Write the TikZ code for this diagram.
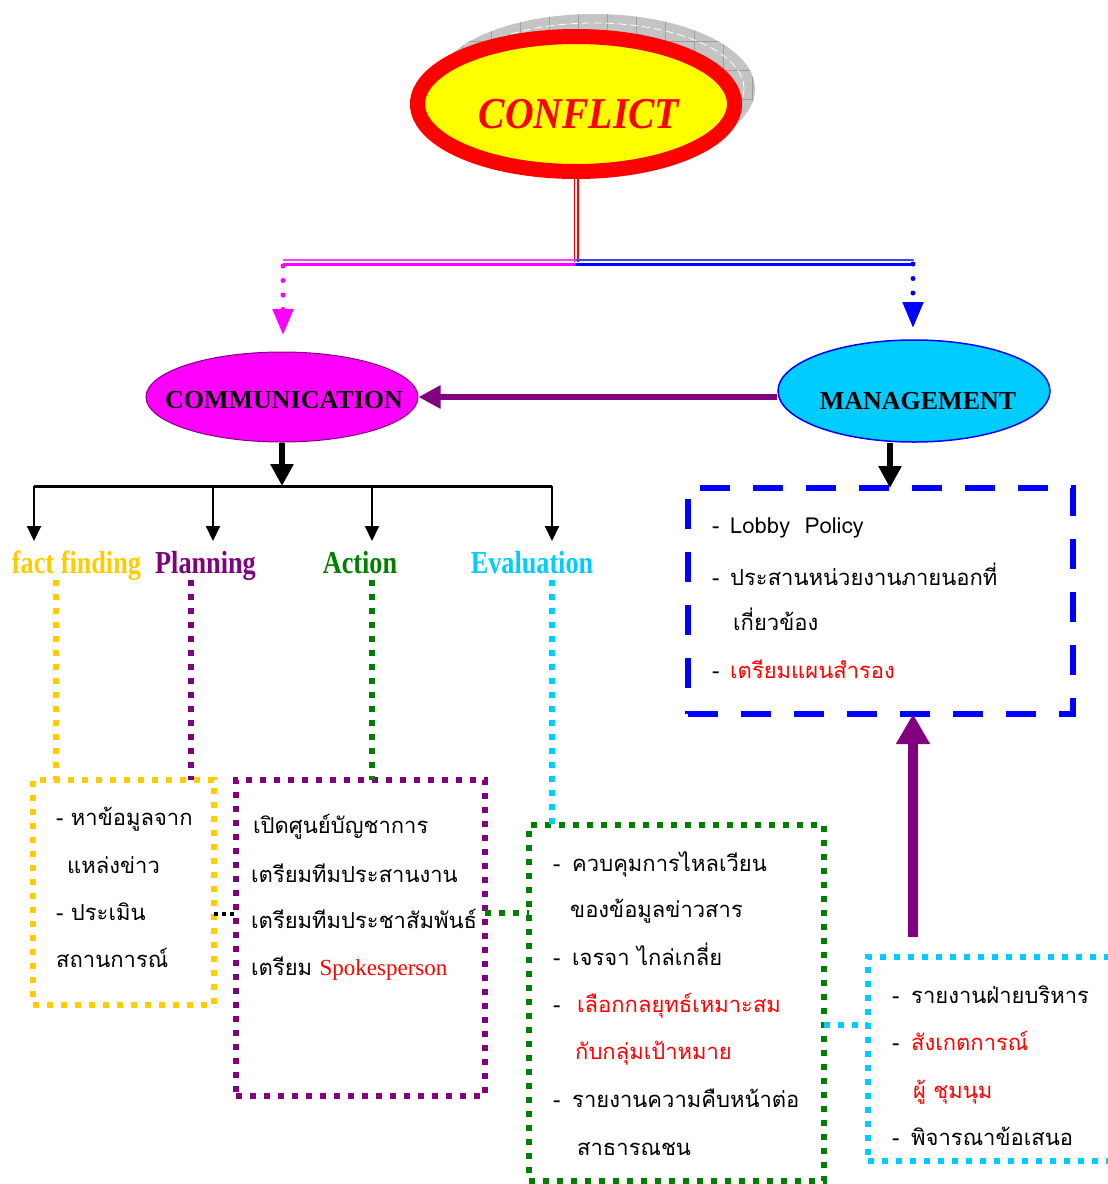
\documentclass[tikz,border=0pt]{standalone}
\usepackage{fontspec}
\setmainfont{Liberation Serif}
\newfontfamily\thaifont[Script=Thai]{Loma}
\newfontfamily\labelserif[FakeStretch=0.82]{Liberation Serif}
\newfontfamily\titleserif[FakeStretch=0.9]{Liberation Serif}
\usetikzlibrary{arrows.meta,shapes.geometric}

\definecolor{cGold}{RGB}{255,204,0}
\definecolor{cPurple}{RGB}{128,0,128}
\definecolor{cGreen}{RGB}{0,128,0}
\definecolor{cCyan}{RGB}{0,204,255}
\definecolor{cMag}{RGB}{255,0,255}
\definecolor{cBlue}{RGB}{0,0,255}
\definecolor{cRed}{RGB}{255,0,0}
\definecolor{cYellow}{RGB}{255,255,0}

\begin{document}
\begin{tikzpicture}[x=1pt,y=-1pt,
  thai/.style={font=\thaifont\fontsize{22}{26}\selectfont, anchor=base west, inner sep=0pt},
  redthai/.style={thai, text=cRed},
  lab/.style={font=\labelserif\bfseries\fontsize{32}{36}\selectfont, anchor=base, inner sep=0pt},
  ovaltext/.style={font=\bfseries\fontsize{26}{30}\selectfont, inner sep=0pt},
  dotbox/.style={draw=#1, line width=6pt, dash pattern=on 6pt off 8pt, rectangle,
    anchor=north west, inner sep=0pt, outer sep=0pt},
  dotline/.style={draw=#1, line width=6pt, dash pattern=on 6pt off 8pt},
  tree/.style={line width=2pt, -{Triangle[width=14pt,length=15pt]}},
  bigarrow/.style={line width=6pt, -{Triangle[width=22pt,length=22pt]}},
  dotarrow/.style={draw=#1, line width=5pt, line cap=round, dash pattern=on 0pt off 14.5pt,
    -{Triangle[width=20pt,length=26pt]}},
]
\useasboundingbox (0,0) rectangle (1108,1184);

% --- textured shadow behind the CONFLICT oval
\begin{scope}
  \clip (594,89) ellipse [x radius=161pt, y radius=75pt];
  \fill[black!23] (420,0) rectangle (770,180);
  \foreach \gx in {433,462,...,760} \draw[black!38, line width=0.8pt] (\gx,0) -- (\gx,180);
  \foreach \gy in {12,41,...,180} \draw[black!38, line width=0.8pt] (420,\gy) -- (770,\gy);
  \draw[white, line width=0.8pt, dash pattern=on 8pt off 4pt] (594,89) ellipse [x radius=150pt, y radius=66pt];
\end{scope}

% --- the three ovals
\node[ellipse, draw=cRed, line width=15pt, fill=cYellow, minimum width=317pt,
  minimum height=135pt, inner sep=0pt] (conflict) at (576,104) {};
\node[font=\titleserif\bfseries\itshape\fontsize{44}{48}\selectfont, text=cRed, inner sep=0pt]
  (conflicttext) at (579,114) {CONFLICT};

\node[ellipse, draw=cPurple, line width=1pt, fill=cMag, minimum width=272pt,
  minimum height=90pt, inner sep=0pt] (comm) at (282,397) {};
\node[ovaltext] (commtext) at (284,400) {COMMUNICATION};

\node[ellipse, draw=cBlue, line width=1.5pt, fill=cCyan, minimum width=272pt,
  minimum height=102pt, inner sep=0pt] (mgmt) at (914,391) {};
\node[ovaltext] (mgmttext) at (918,401) {MANAGEMENT};

% --- split below CONFLICT
\coordinate (split) at (576,262);
\coordinate (mleft) at (283,262);
\coordinate (bright) at (913,262);
\coordinate (mtip) at (283,335);
\coordinate (btip) at (913,328);
\draw[cRed, line width=1.4pt, double=white, double distance=2.2pt] (conflict.south) -- (split);
\draw[cMag!75, line width=2pt] ([yshift=2.5pt]mleft) -- ([yshift=2.5pt]split);
\draw[cMag, line width=3pt] ([yshift=-2.5pt]mleft) -- ([yshift=-2.5pt]split);
\draw[cBlue!75, line width=2pt, line cap=round] ([yshift=2.5pt]split) -- ([yshift=2.5pt]bright);
\draw[cBlue, line width=3pt, line cap=round] ([yshift=-2.5pt]split) -- ([yshift=-2.5pt]bright);
\draw[dotarrow=cMag] ([yshift=-4pt]mleft) -- (mtip);
\draw[dotarrow=cBlue] ([yshift=-2pt]bright) -- (btip);

% --- MANAGEMENT feeds COMMUNICATION
\draw[bigarrow, cPurple] (comm.east -| mgmt.west) -- (comm.east);

% --- COMMUNICATION branches
\coordinate (b1) at (34,486);
\coordinate (b2) at (213,486);
\coordinate (b3) at (372,486);
\coordinate (b4) at (552,486);
\coordinate (b1e) at (34,541);
\coordinate (b2e) at (213,541);
\coordinate (b3e) at (372,541);
\coordinate (b4e) at (552,541);
\draw[bigarrow] (comm.south) -- (comm.south |- b1);
\draw[line width=3pt] (b1) -- (b4);
\draw[tree] (b1) -- (b1e);
\draw[tree] (b2) -- (b2e);
\draw[tree] (b3) -- (b3e);
\draw[tree] (b4) -- (b4e);

\node[lab, text=cGold] (ff) at (76.5,573) {fact finding};
\node[lab, text=cPurple] (pl) at (205.5,573) {Planning};
\node[lab, text=cGreen] (ac) at (360,573) {Action};
\node[lab, text=cCyan] (ev) at (532,573) {Evaluation};

% --- dotted boxes
\node[dotbox=cGold, minimum width=181pt, minimum height=225pt] (ffbox) at (33,780) {};
\node[dotbox=cPurple, minimum width=249pt, minimum height=316pt] (plbox) at (236,780) {};
\node[dotbox=cGreen, minimum width=295pt, minimum height=356pt] (acbox) at (529,825) {};
\node[dotbox=cCyan, minimum width=250pt, minimum height=204pt] (evbox) at (868,957) {};
\node[draw=cBlue, line width=6pt, dash pattern=on 30pt off 23pt, rectangle, anchor=north west,
  inner sep=0pt, outer sep=0pt, minimum width=385pt, minimum height=226pt] (mgbox) at (688,488) {};

% --- drops from the labels
\coordinate (ffdrop) at (56,580);
\coordinate (pldrop) at (191,580);
\coordinate (acdrop) at (372,580);
\coordinate (evdrop) at (552,580);
\draw[dotline=cGold] (ffdrop) -- (ffdrop |- ffbox.north);
\draw[dotline=cPurple] (pldrop) -- (pldrop |- ffbox.north);
\draw[dotline=cGreen] (acdrop) -- (acdrop |- plbox.north);
\draw[dotline=cCyan] (evdrop) -- (evdrop |- acbox.north);

% --- links between boxes
\coordinate (link1) at (0,914);
\coordinate (link2) at (0,913);
\coordinate (link3) at (0,1025);
\draw[black, line width=4pt, dash pattern=on 4pt off 4pt] (ffbox.east |- link1) -- (plbox.west |- link1);
\draw[dotline=cGreen] (plbox.east |- link2) -- (acbox.west |- link2);
\draw[dotline=cCyan] (acbox.east |- link3) -- (evbox.west |- link3);

% --- MANAGEMENT to its box, evaluation back to it
\coordinate (mdrop) at (890,486);
\draw[bigarrow] (mgmt.south -| mdrop) -- (mdrop |- mgbox.north);
\coordinate (upstart) at (913,937);
\draw[cPurple, line width=10pt, -{Triangle[width=32pt,length=30pt]}] (upstart) -- (upstart |- mgbox.south);

% --- fact finding text
\node[thai] (g1) at (56,825) {- หาข้อมูลจาก};
\node[thai] (g2) at (67,873) {แหล่งข่าว};
\node[thai] (g3) at (56,920) {- ประเมิน};
\node[thai] (g4) at (56,967) {สถานการณ์};

% --- planning text
\node[thai] (p1) at (253,833) {เปิดศูนย์บัญชาการ};
\node[thai] (p2) at (251,882) {เตรียมทีมประสานงาน};
\node[thai] (p3) at (251,928) {เตรียมทีมประชาสัมพันธ์};
\node[thai] (p4) at (251,975) {เตรียม {\rmfamily\fontsize{23}{26}\selectfont\color{cRed}Spokesperson}};

% --- action text
\node[thai] (a1d) at (553,871) {-};
\node[thai] (a1) at (572,871) {ควบคุมการไหลเวียน};
\node[thai] (a2) at (570,917) {ของข้อมูลข่าวสาร};
\node[thai] (a3d) at (553,965) {-};
\node[thai] (a3) at (572,965) {เจรจา ไกล่เกลี่ย};
\node[thai] (a4d) at (553,1012) {-};
\node[redthai] (a4) at (577,1012) {เลือกกลยุทธ์เหมาะสม};
\node[redthai] (a5) at (575,1059) {กับกลุ่มเป้าหมาย};
\node[thai] (a6d) at (553,1107) {-};
\node[thai] (a6) at (572,1107) {รายงานความคืบหน้าต่อ};
\node[thai] (a7) at (577,1155) {สาธารณชน};

% --- evaluation text
\node[thai] (e1d) at (892,1003) {-};
\node[thai] (e1) at (911,1003) {รายงานฝ่ายบริหาร};
\node[thai] (e2d) at (892,1050) {-};
\node[redthai] (e2) at (911,1050) {สังเกตการณ์};
\node[redthai] (e3) at (913,1098) {ผู้ ชุมนุม};
\node[thai] (e4d) at (892,1145) {-};
\node[thai] (e4) at (911,1145) {พิจารณาข้อเสนอ};

% --- management text
\node[thai] (m1d) at (712,533) {-};
\node[thai] (m1) at (730,533) {Lobby\ \ Policy};
\node[thai] (m2d) at (712,585) {-};
\node[thai] (m2) at (730,585) {ประสานหน่วยงานภายนอกที่};
\node[thai] (m3) at (733,630) {เกี่ยวข้อง};
\node[thai] (m4d) at (712,678) {-};
\node[redthai] (m4) at (730,678) {เตรียมแผนสำรอง};
\end{tikzpicture}
\end{document}
